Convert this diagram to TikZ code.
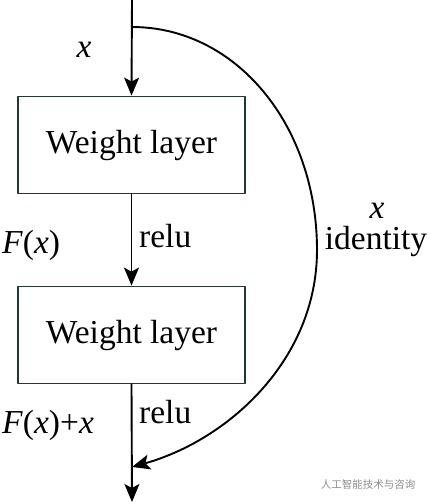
\documentclass[tikz,border=0pt]{standalone}
\usepackage{fontspec}
\setmainfont{Liberation Serif}
\newfontfamily\cjk{Noto Sans CJK SC}
\usetikzlibrary{arrows.meta}
\definecolor{boxgreen}{RGB}{35,58,48}

\begin{document}
\begin{tikzpicture}[x=1pt,y=-1pt,line cap=round,line join=round,
  every node/.style={inner sep=0pt,font=\fontsize{33.5}{40}\selectfont},
  layer/.style={draw=boxgreen,line width=1.8pt,minimum width=227pt,minimum height=97pt},
  flow/.style={line width=1.9pt,-{Stealth[length=18pt,width=15pt,inset=4pt]}}]
  \useasboundingbox (0,0) rectangle (429,504);
  % Schichten
  \node[layer] (wl1) at (131.5,145) {Weight layer};
  \node[layer] (wl2) at (131.5,335) {Weight layer};
  \coordinate (in) at (132,0);
  \coordinate (split) at (132,27);
  \coordinate (join) at (132,467);
  \coordinate (out) at (132,502);
  % Hauptpfad
  \draw[flow] (in) -- (wl1.north);
  \draw[flow] (wl1.south) -- (wl2.north);
  \draw[flow] (wl2.south) -- (out);
  % Kurzschluss
  \draw[flow] (split) .. controls (236,27) and (317,125) .. (317,250)
    .. controls (317,360) and (228,440) .. (join);
  % Beschriftungen
  \node[anchor=base] (lblx) at (84,57) {\textit{x}};
  \node[anchor=base west] (lblfx) at (2,253) {\textit{F}(\textit{x})};
  \node[anchor=base west] (lblrelua) at (139,247) {relu};
  \node[anchor=base] (lblxid) at (377,218) {\textit{x}};
  \node[anchor=base] (lblid) at (376,249) {identity};
  \node[anchor=base west] (lblrelub) at (139,423) {relu};
  \node[anchor=base west] (lblfxx) at (2,433) {\textit{F}(\textit{x})+\textit{x}};
  \node[text=black!45,font=\cjk\fontsize{10.5}{12}\selectfont] (wm) at (368,485) {人工智能技术与咨询};
\end{tikzpicture}
\end{document}
